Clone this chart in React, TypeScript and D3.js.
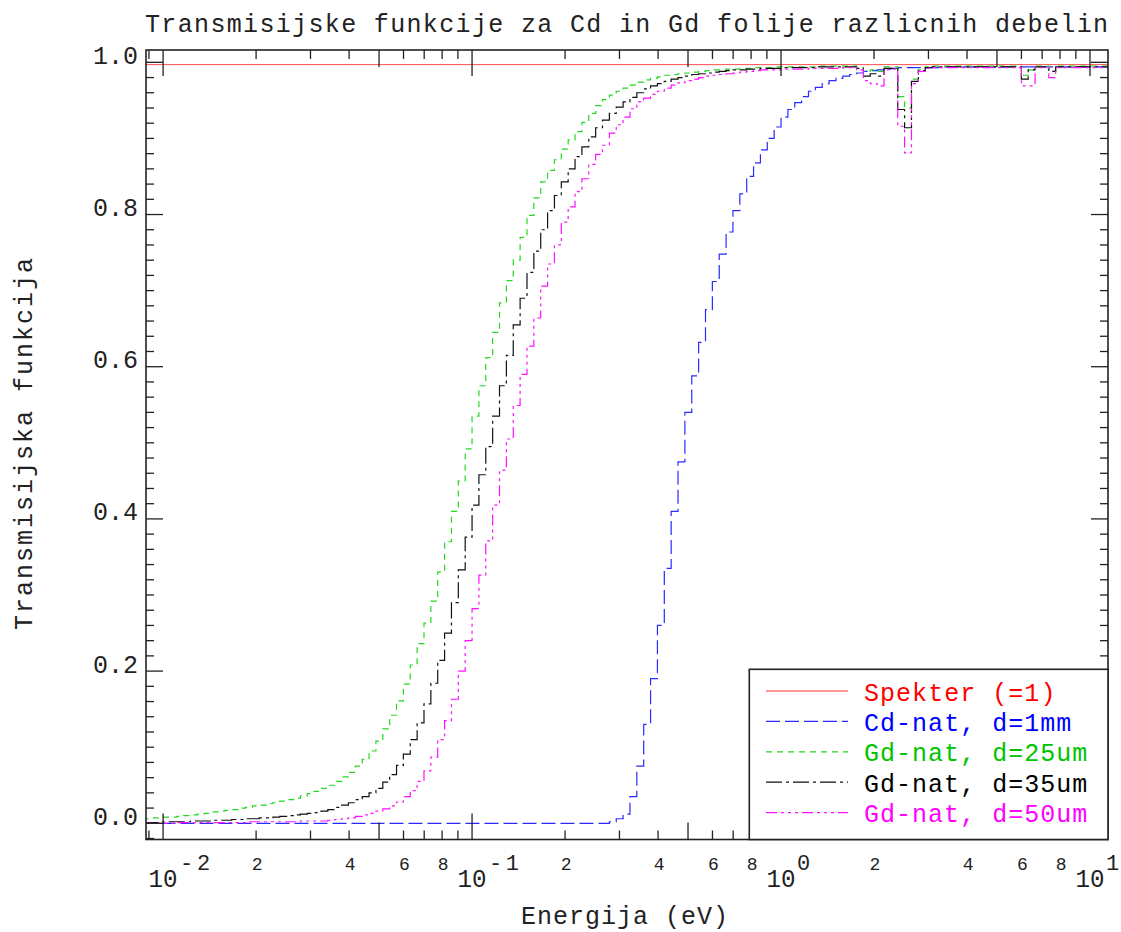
import React from "react";
import * as d3 from "d3";

// ---------------- data ----------------
// energy bins: uniform in log10(E), 45 bins per decade; first bin lower edge at 10^(-2 - 3/45) eV
const BINS_PER_DECADE = 45;
const FIRST_EDGE_LOG = -2 - 3 / 45;

const spekterLevel = 0.997;

const cdNat1mm = [
  0, 0, 0, 0, 0, 0, 0, 0, 0, 0,
  0, 0, 0, 0, 0, 0, 0, 0, 0, 0,
  0, 0, 0, 0, 0, 0, 0, 0, 0, 0,
  0, 0, 0, 0, 0, 0, 0, 0, 0, 0,
  0, 0, 0, 0, 0, 0, 0, 0, 0, 0,
  0, 0, 0, 0, 0, 0, 0, 0, 0, 0,
  0, 0, 0, 0, 0, 0, 0, 0, 0.002, 0.006,
  0.012, 0.035, 0.075, 0.13, 0.19, 0.26, 0.335, 0.41, 0.475, 0.54,
  0.588, 0.632, 0.675, 0.712, 0.748, 0.777, 0.805, 0.827, 0.85, 0.868,
  0.885, 0.9, 0.915, 0.928, 0.938, 0.947, 0.955, 0.962, 0.967, 0.972,
  0.976, 0.979, 0.982, 0.984, 0.986, 0.988, 0.989, 0.99, 0.991, 0.992,
  0.993, 0.993, 0.993, 0.993, 0.993, 0.993, 0.994, 0.994, 0.994, 0.994,
  0.994, 0.994, 0.994, 0.994, 0.994, 0.994, 0.994, 0.994, 0.994, 0.994,
  0.994, 0.994, 0.994, 0.994, 0.994, 0.994, 0.994, 0.994, 0.994, 0.994,
  0.994,
];

const gdNat25um = [
  0.006, 0.007, 0.007, 0.008, 0.008, 0.009, 0.01, 0.011, 0.012, 0.013,
  0.015, 0.016, 0.017, 0.018, 0.02, 0.021, 0.023, 0.024, 0.026, 0.027,
  0.029, 0.031, 0.033, 0.036, 0.039, 0.042, 0.046, 0.05, 0.055, 0.061,
  0.067, 0.075, 0.084, 0.095, 0.108, 0.124, 0.142, 0.161, 0.183, 0.208,
  0.236, 0.263, 0.292, 0.33, 0.37, 0.41, 0.45, 0.492, 0.535, 0.575,
  0.612, 0.645, 0.684, 0.713, 0.74, 0.77, 0.799, 0.822, 0.843, 0.858,
  0.872, 0.886, 0.898, 0.909, 0.921, 0.933, 0.943, 0.951, 0.957, 0.962,
  0.966, 0.97, 0.974, 0.977, 0.979, 0.981, 0.983, 0.984, 0.985, 0.986,
  0.987, 0.988, 0.989, 0.99, 0.99, 0.991, 0.991, 0.992, 0.992, 0.993,
  0.993, 0.993, 0.994, 0.994, 0.994, 0.994, 0.994, 0.994, 0.995, 0.995,
  0.995, 0.995, 0.995, 0.995, 0.993, 0.988, 0.99, 0.988, 0.994, 0.994,
  0.955, 0.94, 0.978, 0.99, 0.994, 0.995, 0.995, 0.995, 0.995, 0.995,
  0.995, 0.995, 0.995, 0.995, 0.995, 0.995, 0.995, 0.995, 0.983, 0.99,
  0.995, 0.995, 0.988, 0.995, 0.995, 0.995, 0.995, 0.995, 0.995, 0.995,
  0.995,
];

const gdNat35um = [
  0.001, 0.001, 0.001, 0.002, 0.002, 0.002, 0.002, 0.003, 0.003, 0.003,
  0.004, 0.004, 0.004, 0.005, 0.005, 0.006, 0.006, 0.007, 0.007, 0.008,
  0.009, 0.01, 0.011, 0.012, 0.013, 0.014, 0.016, 0.018, 0.021, 0.024,
  0.027, 0.031, 0.035, 0.04, 0.046, 0.054, 0.064, 0.076, 0.091, 0.11,
  0.132, 0.157, 0.184, 0.214, 0.25, 0.29, 0.333, 0.376, 0.418, 0.458,
  0.495, 0.535, 0.575, 0.615, 0.655, 0.69, 0.724, 0.752, 0.78, 0.805,
  0.825, 0.843, 0.86, 0.876, 0.889, 0.902, 0.914, 0.924, 0.933, 0.941,
  0.948, 0.954, 0.96, 0.965, 0.969, 0.972, 0.975, 0.978, 0.98, 0.982,
  0.984, 0.985, 0.986, 0.987, 0.988, 0.989, 0.99, 0.99, 0.991, 0.991,
  0.992, 0.992, 0.992, 0.993, 0.993, 0.993, 0.993, 0.993, 0.994, 0.994,
  0.994, 0.994, 0.994, 0.994, 0.992, 0.982, 0.985, 0.982, 0.992, 0.992,
  0.938, 0.914, 0.975, 0.989, 0.993, 0.994, 0.994, 0.994, 0.994, 0.994,
  0.994, 0.994, 0.994, 0.994, 0.994, 0.994, 0.994, 0.994, 0.978, 0.99,
  0.994, 0.994, 0.988, 0.994, 0.994, 0.994, 0.994, 0.994, 0.994, 0.994,
  0.994,
];

const gdNat50um = [
  0, 0, 0, 0, 0, 0.001, 0.001, 0.001, 0.001, 0.001,
  0.001, 0.001, 0.001, 0.001, 0.001, 0.002, 0.002, 0.002, 0.002, 0.002,
  0.002, 0.002, 0.002, 0.003, 0.003, 0.003, 0.003, 0.004, 0.005, 0.006,
  0.007, 0.009, 0.011, 0.013, 0.016, 0.019, 0.023, 0.028, 0.035, 0.043,
  0.055, 0.069, 0.087, 0.11, 0.135, 0.163, 0.2, 0.24, 0.282, 0.326,
  0.371, 0.418, 0.464, 0.505, 0.549, 0.59, 0.627, 0.664, 0.706, 0.735,
  0.76, 0.79, 0.81, 0.83, 0.847, 0.866, 0.879, 0.891, 0.907, 0.918,
  0.928, 0.939, 0.948, 0.953, 0.958, 0.962, 0.966, 0.97, 0.973, 0.976,
  0.978, 0.98, 0.982, 0.983, 0.984, 0.985, 0.986, 0.987, 0.988, 0.989,
  0.99, 0.99, 0.99, 0.991, 0.991, 0.991, 0.991, 0.992, 0.992, 0.992,
  0.992, 0.992, 0.993, 0.993, 0.99, 0.976, 0.972, 0.969, 0.99, 0.991,
  0.916, 0.881, 0.972, 0.988, 0.992, 0.993, 0.993, 0.993, 0.993, 0.993,
  0.993, 0.993, 0.993, 0.993, 0.993, 0.993, 0.993, 0.993, 0.969, 0.969,
  0.993, 0.993, 0.98, 0.993, 0.993, 0.993, 0.993, 0.993, 0.993, 0.993,
  0.993,
];

const legendLabels = [
  "Spekter (=1)",
  "Cd-nat, d=1mm",
  "Gd-nat, d=25um",
  "Gd-nat, d=35um",
  "Gd-nat, d=50um",
];

const yTickValues = [0, 0.2, 0.4, 0.6, 0.8, 1.0];
const yTickLabels = ["0.0", "0.2", "0.4", "0.6", "0.8", "1.0"];
const xDecades = [0.01, 0.1, 1, 10];
const xDecadeExponents = ["-2", "-1", "0", "1"];
const xMinorLabelMantissas = [2, 4, 6, 8];

const titleText = "Transmisijske funkcije za Cd in Gd folije razlicnih debelin";
const xAxisTitle = "Energija (eV)";
const yAxisTitle = "Transmisijska funkcija";

// ---------------- styles ----------------
const FONT = "'Liberation Mono', 'DejaVu Sans Mono', monospace";
const INK = "#222222";
const seriesColors = ["#ff3030", "#2a2aff", "#22d822", "#111111", "#ff10ff"];
const lineDash = ["none", "14 5", "6 5", "16 4 3 4", "11 4 3 4 3 4 3 4"];
const textColors = ["#ff0000", "#0000ff", "#00c400", "#000000", "#ff00ff"];

const L = 146, R = 1108, T = 50, B = 839.5;

export default function App() {
  const x = d3.scaleLog().domain([10 ** -2.0553, 10 ** 1.0583]).range([L, R]);
  const y = d3.scaleLinear().domain([-0.0213, 1.0162]).range([B, T]);

  const nBins = cdNat1mm.length;
  const edges = d3.range(nBins + 1).map((i) => 10 ** (FIRST_EDGE_LOG + i / BINS_PER_DECADE));

  const line = d3
    .line<[number, number]>()
    .x((d) => x(d[0]))
    .y((d) => y(d[1]))
    .curve(d3.curveStepAfter);

  const stepPath = (vals: number[]) => {
    const pts: [number, number][] = vals.map((v, i) => [edges[i], v]);
    pts.push([edges[vals.length], vals[vals.length - 1]]);
    return line(pts) || "";
  };

  const spekterPath = line([
    [edges[0], spekterLevel],
    [edges[nBins], spekterLevel],
  ]) || "";

  const series = [cdNat1mm, gdNat25um, gdNat35um, gdNat50um];

  // x ticks
  const [d0, d1] = x.domain();
  const minorX: { v: number; len: number }[] = [];
  for (let e = -3; e <= 1; e++) {
    for (let m = 1; m <= 9; m++) {
      const v = m * 10 ** e;
      if (v < d0 || v > d1) continue;
      minorX.push({ v, len: m === 1 ? 26 : m === 5 ? 17 : 9 });
    }
  }
  const minorLabels: { v: number; t: string }[] = [];
  for (let e = -2; e <= 0; e++) {
    for (const m of xMinorLabelMantissas) minorLabels.push({ v: m * 10 ** e, t: String(m) });
  }

  // y ticks
  const yTicks: { v: number; len: number }[] = [];
  for (let k = -1; k <= 50; k++) {
    const v = k * 0.02;
    if (v < y.domain()[0] || v > y.domain()[1]) continue;
    yTicks.push({ v, len: k % 10 === 0 ? 17 : 8 });
  }

  const legendX0 = 749.3;
  const legendY0 = 669.3;
  const rowBase = [700.5, 730.9, 761.3, 791.7, 822.1];

  return (
    <svg width={1121} height={932} style={{ display: "block", position: "absolute", left: 0, top: 0 }}>
      <defs>
        <clipPath id="plotClip">
          <rect x={L} y={T} width={R - L} height={B - T} />
        </clipPath>
      </defs>
      <rect x={0} y={0} width={1121} height={932} fill="#fff" />

      {/* title */}
      <text x={145} y={32} fontFamily={FONT} fontSize={25} fill={INK} textLength={963} lengthAdjust="spacing">
        {titleText}
      </text>

      {/* curves */}
      <g clipPath="url(#plotClip)">
        <path d={spekterPath} fill="none" stroke={seriesColors[0]} strokeWidth={1} opacity={0.85} />
        {series.map((s, k) => (
          <path
            key={k}
            d={stepPath(s)}
            fill="none"
            stroke={seriesColors[k + 1]}
            strokeWidth={1.2}
            strokeDasharray={lineDash[k + 1]}
          />
        ))}
      </g>

      {/* ticks */}
      <g stroke={INK} strokeWidth={1.3}>
        {minorX.map((t, i) => (
          <g key={"xt" + i}>
            <line x1={x(t.v)} x2={x(t.v)} y1={B} y2={B - t.len} />
            <line x1={x(t.v)} x2={x(t.v)} y1={T} y2={T + t.len} />
          </g>
        ))}
        {yTicks.map((t, i) => (
          <g key={"yt" + i}>
            <line x1={L} x2={L + t.len} y1={y(t.v)} y2={y(t.v)} />
            <line x1={R} x2={R - t.len} y1={y(t.v)} y2={y(t.v)} />
          </g>
        ))}
      </g>

      {/* frame */}
      <rect x={L} y={T} width={R - L} height={B - T} fill="none" stroke={INK} strokeWidth={1.6} />

      {/* y tick labels */}
      {yTickValues.map((v, i) => (
        <text key={"yl" + i} x={138} y={y(v) + 1.5} textAnchor="end" fontFamily={FONT} fontSize={25} fill={INK}>
          {yTickLabels[i]}
        </text>
      ))}

      {/* x decade labels */}
      {xDecades.map((v, i) => {
        const exp = xDecadeExponents[i];
        return (
          <g key={"xd" + i}>
            <text
              x={x(v)}
              y={886.5}
              textAnchor="middle"
              fontFamily={FONT}
              fontSize={26}
              fill={INK}
              textLength={29}
              lengthAdjust="spacingAndGlyphs"
            >
              10
            </text>
            {exp.length > 1 ? (
              <text
                x={x(v) + 17}
                y={869.5}
                fontFamily={FONT}
                fontSize={22}
                fill={INK}
                textLength={30}
                lengthAdjust="spacing"
              >
                {exp}
              </text>
            ) : (
              <text x={x(v) + 16} y={869.5} fontFamily={FONT} fontSize={22} fill={INK}>
                {exp}
              </text>
            )}
          </g>
        );
      })}
      {minorLabels.map((m, i) => (
        <text key={"xm" + i} x={x(m.v) + 1} y={869.5} textAnchor="middle" fontFamily={FONT} fontSize={18} fill={INK}>
          {m.t}
        </text>
      ))}

      {/* axis titles */}
      <text x={521} y={924} fontFamily={FONT} fontSize={25} fill={INK} textLength={207} lengthAdjust="spacing">
        {xAxisTitle}
      </text>
      <text
        transform="translate(32,444) rotate(-90)"
        x={0}
        y={0}
        textAnchor="middle"
        fontFamily={FONT}
        fontSize={25}
        fill={INK}
        textLength={372}
        lengthAdjust="spacing"
      >
        {yAxisTitle}
      </text>

      {/* legend */}
      <rect x={legendX0} y={legendY0} width={R - legendX0} height={B - legendY0} fill="#fff" stroke={INK} strokeWidth={1.6} />
      {legendLabels.map((lab, i) => (
        <g key={"lg" + i}>
          <line
            x1={766}
            x2={848}
            y1={rowBase[i] - 9.5}
            y2={rowBase[i] - 9.5}
            stroke={seriesColors[i]}
            strokeWidth={1.2}
            strokeDasharray={lineDash[i]}
          />
          <text
            x={864}
            y={rowBase[i]}
            fontFamily={FONT}
            fontSize={25}
            fill={textColors[i]}
            textLength={lab.length * 15.95}
            lengthAdjust="spacing"
          >
            {lab}
          </text>
        </g>
      ))}
    </svg>
  );
}
